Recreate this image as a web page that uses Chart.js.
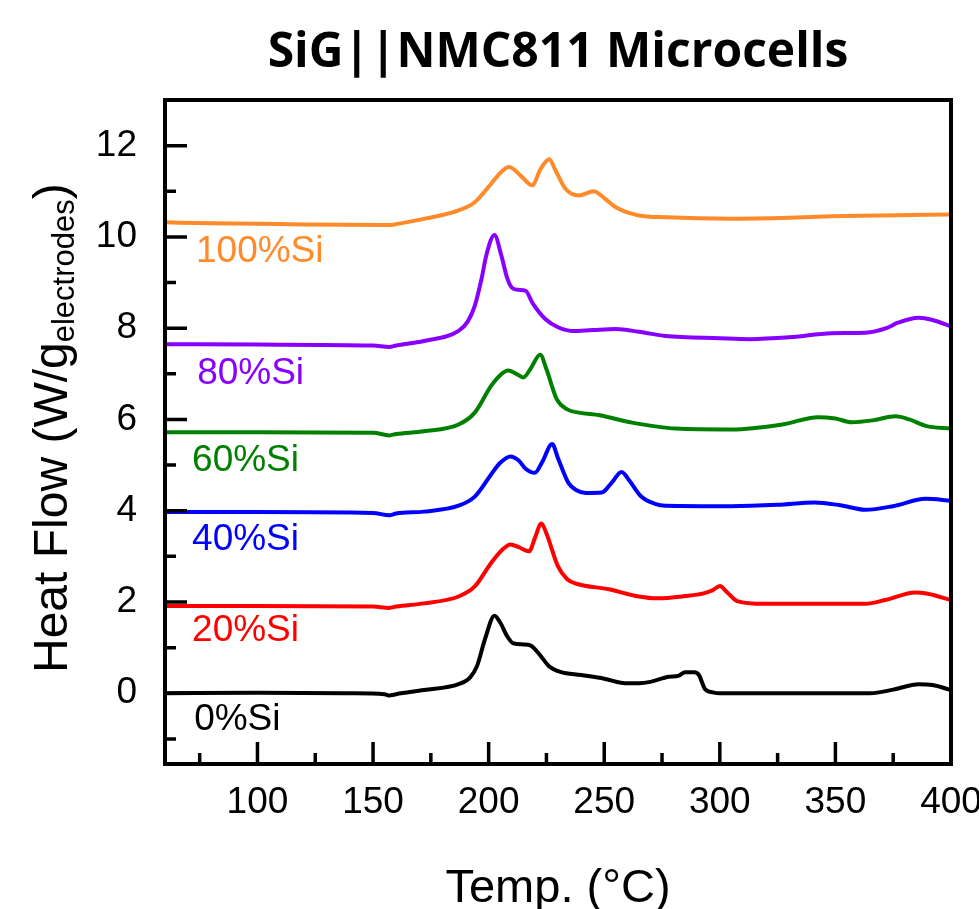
<!DOCTYPE html>
<html>
<head>
<meta charset="utf-8">
<script src="https://cdn.jsdelivr.net/npm/chart.js@4.4.0/dist/chart.umd.min.js"></script>
<style>
  body { margin: 0; background: #fff; }
</style>
</head>
<body>
<canvas id="myChart" width="979" height="909"></canvas>
<script>
// curves: temperature (°C) and heat flow (W/g)
const t0 = [60, 100, 140, 155, 157, 160, 172, 187, 192, 195, 198.5, 202.5, 205, 208, 210.5, 215, 218, 222, 226, 231, 240, 250, 259, 265, 270, 278, 282, 285, 289, 291, 293.5, 297, 300, 348, 365, 375, 386, 392, 400];
const hf0 = [0.00, 0.01, 0.00, -0.02, -0.05, -0.02, 0.07, 0.20, 0.35, 0.60, 1.20, 1.70, 1.55, 1.25, 1.10, 1.07, 1.05, 0.85, 0.60, 0.47, 0.40, 0.32, 0.22, 0.22, 0.25, 0.36, 0.38, 0.46, 0.46, 0.40, 0.10, 0.02, 0.00, 0.00, 0.00, 0.08, 0.20, 0.18, 0.07];

const t20 = [60, 100, 150, 157, 160, 172, 187, 194, 201, 206, 209.5, 213, 217.5, 220, 222.8, 225, 230, 234, 238, 252, 265, 273, 285, 293, 297, 300, 303, 307.5, 319, 363, 372, 384.5, 390, 400];
const hf20 = [1.91, 1.91, 1.90, 1.87, 1.90, 1.97, 2.12, 2.34, 2.85, 3.15, 3.26, 3.20, 3.11, 3.40, 3.72, 3.50, 2.78, 2.50, 2.40, 2.28, 2.12, 2.08, 2.13, 2.19, 2.26, 2.35, 2.22, 2.02, 1.96, 1.96, 2.05, 2.21, 2.18, 2.04];

const t40 = [60, 100, 150, 157, 160, 172, 187, 194, 201, 205, 209.5, 213, 216, 220, 223, 227.5, 230, 234.5, 238, 242, 249, 253, 257.5, 261, 266, 272, 276.5, 305, 325, 341, 352, 363, 375, 389, 400];
const hf40 = [3.97, 3.97, 3.95, 3.90, 3.94, 3.98, 4.11, 4.31, 4.79, 5.05, 5.19, 5.10, 4.92, 4.83, 5.05, 5.46, 5.15, 4.61, 4.45, 4.39, 4.40, 4.60, 4.85, 4.65, 4.31, 4.15, 4.11, 4.10, 4.13, 4.18, 4.12, 4.02, 4.10, 4.26, 4.22];

const t60 = [60, 100, 150, 157, 160, 172, 187, 194, 201, 205, 208.5, 212, 215, 218, 222.3, 225, 229.5, 234, 239, 248, 262, 281, 305, 327, 342.5, 350, 357, 366, 376, 382, 389, 400];
const hf60 = [5.72, 5.72, 5.71, 5.65, 5.68, 5.74, 5.89, 6.15, 6.73, 6.97, 7.07, 7.00, 6.92, 7.10, 7.42, 7.10, 6.44, 6.22, 6.15, 6.09, 5.93, 5.80, 5.78, 5.89, 6.05, 6.02, 5.94, 5.98, 6.07, 6.00, 5.86, 5.80];

const t80 = [60, 100, 150, 157, 160, 172, 187, 191, 194, 197, 199, 202.5, 205.5, 208, 210, 213, 216, 219, 224.5, 230, 236, 245, 255, 265, 276.5, 300, 313, 330, 348.5, 363, 372, 377, 386, 392, 400];
const hf80 = [7.65, 7.64, 7.62, 7.59, 7.62, 7.72, 7.94, 8.15, 8.49, 9.10, 9.60, 10.04, 9.59, 9.10, 8.89, 8.84, 8.82, 8.55, 8.20, 8.02, 7.94, 7.96, 7.98, 7.92, 7.83, 7.78, 7.76, 7.80, 7.89, 7.90, 8.00, 8.12, 8.23, 8.18, 8.04];

const t100 = [60, 80, 100, 120, 157, 160, 172.5, 187, 194, 201, 205, 208.8, 214.5, 218.8, 222.5, 226.2, 229, 233.3, 239, 245.5, 250, 255, 265, 276.5, 305, 330, 348.5, 370, 400];
const hf100 = [10.32, 10.30, 10.29, 10.27, 10.26, 10.28, 10.40, 10.58, 10.76, 11.16, 11.40, 11.53, 11.31, 11.13, 11.49, 11.70, 11.45, 11.05, 10.91, 11.00, 10.85, 10.65, 10.47, 10.43, 10.40, 10.42, 10.45, 10.47, 10.49];

const seriesNames = ["0%Si", "20%Si", "40%Si", "60%Si", "80%Si", "100%Si"];
const seriesColors = ["#000000", "#ff0000", "#0000ff", "#008000", "#8800ff", "#ff8a2a"];
const seriesTemps = [t0, t20, t40, t60, t80, t100];
const seriesFlows = [hf0, hf20, hf40, hf60, hf80, hf100];

// where each curve's name sits (left edge temp, baseline heat flow)
const labelTemp = [72.6, 71.7, 71.7, 71.7, 73.9, 73.4];
const labelFlow = [-0.80, 1.14, 3.15, 4.88, 6.77, 9.46];

const xTicks = [100, 150, 200, 250, 300, 350, 400];
const xMinorTicks = [75, 125, 175, 225, 275, 325, 375];
const yTicks = [0, 2, 4, 6, 8, 10, 12];
const yMinorTicks = [-1, 1, 3, 5, 7, 9, 11];

const sansFont = "'Liberation Sans', Arial, sans-serif";

// inward ticks, frame, curve names, y title with subscript
const framePlugin = {
  id: "frame",
  afterDraw(chart) {
    const ctx = chart.ctx;
    const area = chart.chartArea;
    const xs = chart.scales.x;
    const ys = chart.scales.y;
    ctx.save();
    ctx.strokeStyle = "#000";
    ctx.lineWidth = 3.5;
    ctx.beginPath();
    xTicks.forEach(function (v) {
      const p = xs.getPixelForValue(v);
      ctx.moveTo(p, area.bottom);
      ctx.lineTo(p, area.bottom - 22);
    });
    xMinorTicks.forEach(function (v) {
      const p = xs.getPixelForValue(v);
      ctx.moveTo(p, area.bottom);
      ctx.lineTo(p, area.bottom - 11);
    });
    yTicks.forEach(function (v) {
      const p = ys.getPixelForValue(v);
      ctx.moveTo(area.left, p);
      ctx.lineTo(area.left + 22, p);
    });
    yMinorTicks.forEach(function (v) {
      const p = ys.getPixelForValue(v);
      ctx.moveTo(area.left, p);
      ctx.lineTo(area.left + 11, p);
    });
    ctx.stroke();

    ctx.lineWidth = 4;
    ctx.strokeRect(area.left, area.top, area.right - area.left, area.bottom - area.top);

    // curve names
    ctx.font = "37px " + sansFont;
    ctx.textAlign = "left";
    ctx.textBaseline = "alphabetic";
    seriesNames.forEach(function (name, i) {
      ctx.fillStyle = seriesColors[i];
      ctx.fillText(name, xs.getPixelForValue(labelTemp[i]), ys.getPixelForValue(labelFlow[i]));
    });

    // y axis title
    ctx.fillStyle = "#000";
    ctx.translate(67, 673);
    ctx.rotate(-Math.PI / 2);
    ctx.font = "48px " + sansFont;
    const main = "Heat Flow (W/g";
    ctx.fillText(main, 0, 0);
    let w = ctx.measureText(main).width;
    ctx.font = "31px " + sansFont;
    ctx.fillText("electrodes", w, 7);
    w += ctx.measureText("electrodes").width;
    ctx.font = "48px " + sansFont;
    ctx.fillText(")", w, 0);
    ctx.restore();
  }
};

const datasets = seriesNames.map(function (name, i) {
  return {
    label: name,
    data: seriesTemps[i].map(function (t, j) {
      return { x: t, y: seriesFlows[i][j] };
    }),
    borderColor: seriesColors[i],
    borderWidth: 4,
    pointRadius: 0,
    fill: false,
    cubicInterpolationMode: "monotone"
  };
});

const ctx = document.getElementById("myChart").getContext("2d");
const chart = new Chart(ctx, {
  type: "line",
  data: { datasets: datasets },
  options: {
    responsive: false,
    animation: false,
    layout: { padding: { left: 0, right: 28, top: 0, bottom: 0 } },
    plugins: {
      legend: { display: false },
      tooltip: { enabled: false },
      title: {
        display: true,
        text: "SiG||NMC811 Microcells",
        color: "#000",
        fullSize: false,
        font: { family: "'Open Sans', Lato, sans-serif", size: 48, weight: "bold", lineHeight: 1.2 },
        padding: { top: 25, bottom: 17.4 }
      }
    },
    scales: {
      x: {
        type: "linear",
        min: 60,
        max: 400,
        grid: { display: false, drawTicks: false },
        border: { display: false },
        ticks: {
          color: "#000",
          padding: 17,
          maxRotation: 0,
          autoSkip: false,
          font: { family: sansFont, size: 37 }
        },
        title: {
          display: true,
          text: "Temp. (°C)",
          color: "#000",
          font: { family: sansFont, size: 47, lineHeight: 1 },
          padding: { top: 0, bottom: -4 }
        },
        afterBuildTicks: function (scale) {
          scale.ticks = xTicks.map(function (v) { return { value: v }; });
        },
        afterFit: function (scale) {
          scale.height = 145;
          scale.paddingLeft = 0;
          scale.paddingRight = 0;
        }
      },
      y: {
        type: "linear",
        min: -1.55,
        max: 13,
        grid: { display: false, drawTicks: false },
        border: { display: false },
        ticks: {
          color: "#000",
          padding: 28,
          font: { family: sansFont, size: 37 }
        },
        afterBuildTicks: function (scale) {
          scale.ticks = yTicks.map(function (v) { return { value: v }; });
        },
        afterFit: function (scale) {
          scale.width = 165;
          scale.paddingTop = 0;
          scale.paddingBottom = 0;
        }
      }
    }
  },
  plugins: [framePlugin]
});
</script>
</body>
</html>
